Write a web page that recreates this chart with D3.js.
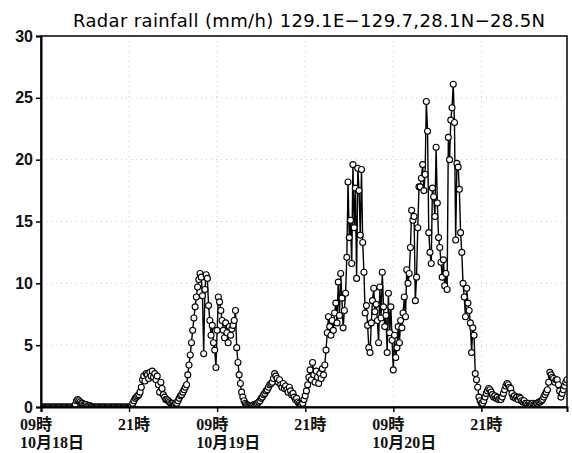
<!DOCTYPE html>
<html>
<head>
<meta charset="utf-8">
<script src="https://cdn.jsdelivr.net/npm/d3@7"></script>
<style>
  body { margin: 0; background: #fff; }
  svg { display: block; }
</style>
</head>
<body>
<svg id="chart" width="572" height="453"></svg>
<script>
// radar rainfall (mm/h), 10 minute steps from 10/18 09:00
const rain = [
  0,0,0,0,0,0,0,0,0,0,
  0,0,0,0,0,0,0,0,0,0,
  0,0,0,0,0,0,0,0,0.2,0.5,
  0.6,0.5,0.4,0.3,0.3,0.2,0.2,0.2,0.1,0.1,
  0.1,0.05,0,0,0,0,0,0,0,0,
  0,0,0,0,0,0,0,0,0,0,
  0,0,0,0,0,0,0,0,0,0,
  0,0,0,0,0.05,0.3,0.5,0.7,0.8,0.9,
  1.0,1.2,1.6,2.2,2.5,2.1,2.7,2.6,2.3,2.8,
  2.5,2.9,2.4,2.7,2.2,2.5,1.8,1.2,2.0,1.5,
  1.0,0.8,0.6,0.6,0.5,0.4,0.3,0.3,0.3,0.2,
  0.3,0.3,0.5,0.7,0.9,1.0,1.2,1.4,1.6,1.8,
  2.6,3.4,4.2,5.2,6.2,7.2,8.1,8.9,9.7,10.3,
  10.8,10.5,9.0,4.3,9.5,10.7,10.4,8.2,7.0,5.8,
  6.6,5.2,4.6,3.2,6.2,8.9,8.5,7.8,7.0,6.2,
  5.6,6.8,6.0,5.2,6.5,5.8,6.3,6.6,7.0,7.8,
  4.8,3.6,2.6,1.9,1.2,0.8,0.5,0.3,0.2,0.15,
  0.1,0.1,0.05,0.1,0.2,0.15,0.25,0.3,0.4,0.5,
  0.7,0.8,1.0,1.1,1.3,1.4,1.6,1.8,1.9,2.0,
  2.3,2.7,2.5,2.3,2.0,2.2,1.8,1.6,1.9,1.5,
  1.7,1.4,1.2,1.6,1.3,1.0,1.1,0.8,0.6,0.7,
  0.4,0.3,0.2,0.2,0.3,0.6,0.9,1.3,1.8,2.4,
  3.0,2.2,3.6,2.6,2.0,2.9,2.4,1.9,2.7,2.3,
  3.1,2.6,3.4,4.6,6.0,7.3,6.5,5.8,7.0,6.2,
  7.6,8.4,6.8,10.1,7.4,10.8,8.8,6.4,7.8,9.2,
  12.1,18.2,13.7,15.1,11.6,19.6,14.5,17.7,10.4,19.3,
  17.5,13.9,19.2,13.3,10.9,7.6,8.2,6.6,4.8,4.4,
  6.8,8.6,9.6,7.7,8.3,7.0,5.2,9.7,7.2,10.9,
  8.1,6.5,7.4,4.4,9.2,6.0,8.1,5.4,3.0,5.8,
  4.0,4.8,6.5,5.2,7.0,6.4,7.6,8.9,7.3,11.1,
  10.0,10.8,12.9,15.9,15.1,15.4,8.6,10.5,14.5,17.8,
  17.8,18.5,19.6,17.5,18.8,24.7,22.3,14.1,12.5,11.6,
  17.7,17.0,15.4,21.0,16.5,13.7,12.9,11.7,10.5,11.9,
  9.8,10.8,9.5,21.8,20.0,23.2,24.2,26.1,23.0,13.5,
  19.7,19.4,17.6,14.1,12.5,10.0,8.9,7.3,9.6,8.4,
  7.8,6.8,4.4,6.4,5.8,2.7,2.2,1.6,0.8,0.5,
  0.3,0.3,0.5,0.8,1.1,1.3,1.5,1.4,1.2,1.0,
  0.8,0.9,0.7,0.8,0.6,0.7,0.6,0.8,1.1,1.4,
  1.7,1.9,1.8,1.6,1.5,1.1,0.8,0.9,0.7,0.8,
  0.6,0.8,0.7,0.5,0.4,0.5,0.3,0.3,0.2,0.3,
  0.2,0.2,0.3,0.2,0.2,0.3,0.3,0.4,0.4,0.5,
  0.6,0.8,1.0,1.2,1.4,2.0,2.8,2.6,2.4,2.3,
  2.0,2.2,2.2,1.8,1.3,0.8,1.1,1.4,1.7,2.0,
  2.2
]
const startTime = new Date(2019, 9, 18, 9, 0)
const stepMinutes = 10

const yTicks = [0, 5, 10, 15, 20, 25, 30]
const xTickLabels = ["09時", "21時", "09時", "21時", "09時", "21時"]
const xDateLabels = ["10月18日", "", "10月19日", "", "10月20日", ""]
const titleText = "Radar rainfall (mm/h) 129.1E\u2212129.7,28.1N\u221228.5N"

const margin = {top: 36, right: 5, bottom: 46, left: 41}
const svg = d3.select("#chart")
const width = +svg.attr("width") - margin.left - margin.right
const height = +svg.attr("height") - margin.top - margin.bottom

let times = rain.map((d, i) => new Date(startTime.getTime() + i * stepMinutes * 60000))
let tickTimes = xTickLabels.map((d, i) => new Date(startTime.getTime() + i * 12 * 3600000))

const x = d3.scaleTime().domain([times[0], times[times.length - 1]]).range([0, width])
const y = d3.scaleLinear().domain([0, 30]).range([height, 0])

let g = svg.append("g").attr("transform", `translate(${margin.left},${margin.top})`)

svg.append("defs").append("clipPath").attr("id", "plotclip")
  .append("rect").attr("width", width).attr("height", height)

// dotted grid
g.append("g").selectAll("line.hgrid")
  .data(yTicks.filter(d => d > 0 && d < 30))
  .join("line")
  .attr("x1", 0).attr("x2", width)
  .attr("y1", d => y(d)).attr("y2", d => y(d))
  .attr("stroke", "#c8c8c8")
  .attr("stroke-dasharray", "1,4")
g.append("g").selectAll("line.vgrid")
  .data(tickTimes.slice(1))
  .join("line")
  .attr("x1", d => x(d)).attr("x2", d => x(d))
  .attr("y1", 0).attr("y2", height)
  .attr("stroke", "#c8c8c8")
  .attr("stroke-dasharray", "1,4")

// series
let plot = g.append("g").attr("clip-path", "url(#plotclip)")
const line = d3.line().x((d, i) => x(times[i])).y(d => y(d))
plot.append("path")
  .datum(rain)
  .attr("d", line)
  .attr("fill", "none")
  .attr("stroke", "#000")
  .attr("stroke-width", 1.4)
plot.selectAll("circle")
  .data(rain)
  .join("circle")
  .attr("cx", (d, i) => x(times[i]))
  .attr("cy", d => y(d))
  .attr("r", 3)
  .attr("fill", "#fff")
  .attr("stroke", "#000")
  .attr("stroke-width", 1.1)

// frame
g.append("rect")
  .attr("width", width).attr("height", height)
  .attr("fill", "none")
  .attr("stroke", "#000")
  .attr("stroke-width", 1.5)

// y axis
let yAxis = g.append("g")
  .call(d3.axisLeft(y).tickValues(yTicks).tickSize(5).tickPadding(3))
yAxis.select(".domain").attr("stroke-width", 2)
yAxis.selectAll(".tick line").attr("stroke-width", 1.5)
yAxis.selectAll("text")
  .attr("font-family", "'Liberation Sans', Arial, sans-serif")
  .attr("font-size", 16)
  .attr("font-weight", "bold")
  .attr("fill", "#111")

// x axis, two line labels
let xAxis = g.append("g")
  .attr("transform", `translate(0,${height})`)
  .call(d3.axisBottom(x).tickValues(tickTimes).tickSize(5).tickFormat(""))
xAxis.select(".domain").attr("stroke-width", 2)
xAxis.selectAll(".tick line").attr("stroke-width", 1.5)

let labels = g.append("g")
  .attr("font-family", "'Liberation Serif', 'Noto Sans CJK JP', serif")
  .attr("font-size", 16)
  .attr("font-weight", "bold")
  .attr("fill", "#111")
tickTimes.forEach((t, i) => {
  let lx = x(t) + (xDateLabels[i] ? -21 : -11)
  labels.append("text")
    .attr("x", lx).attr("y", height + 23)
    .text(xTickLabels[i])
  if (xDateLabels[i]) {
    labels.append("text")
      .attr("x", lx).attr("y", height + 41)
      .text(xDateLabels[i])
  }
})

// title
svg.append("text")
  .attr("x", 309).attr("y", 27)
  .attr("text-anchor", "middle")
  .attr("font-family", "'DejaVu Sans', sans-serif")
  .attr("font-size", 18)
  .attr("textLength", 472)
  .attr("lengthAdjust", "spacing")
  .text(titleText)
</script>
</body>
</html>
